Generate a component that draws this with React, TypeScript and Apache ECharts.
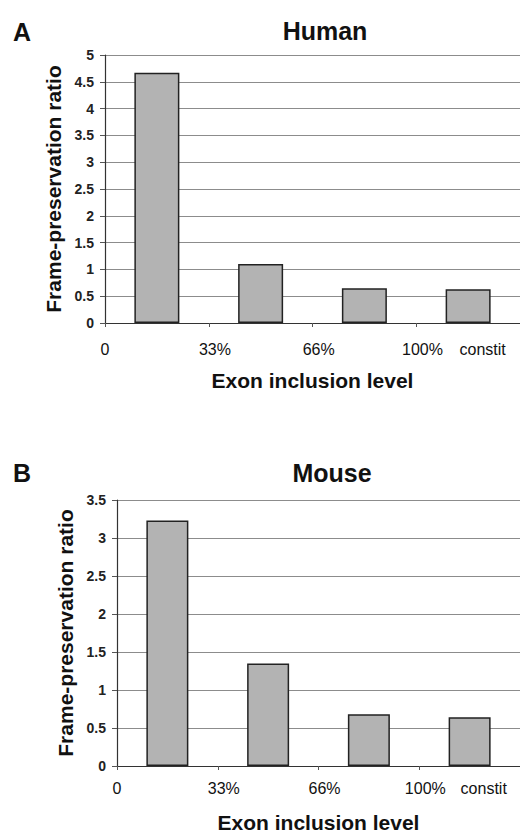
import React, { useEffect, useRef } from "react";
import * as echarts from "echarts";

const categories = ["0-33%", "33-66%", "66-100%", "constit"];
const humanValues = [4.67, 1.1, 0.65, 0.63];
const mouseValues = [3.23, 1.35, 0.68, 0.64];
const xTickLabels = ["0", "33%", "66%", "100%", "constit"];
const humanYTicks = { min: 0, max: 5, interval: 0.5 };
const mouseYTicks = { min: 0, max: 3.5, interval: 0.5 };

const FONT = "'Liberation Sans', Arial, sans-serif";
const TEXT = "#111";

function labelAxis(gridIndex: number, margin: number, nameGap: number) {
  return {
    type: "value",
    gridIndex,
    position: "bottom",
    min: 0,
    max: 4,
    axisLine: { show: false },
    axisTick: { show: false },
    splitLine: { show: false },
    axisLabel: {
      customValues: [0, 1.06, 2.06, 3.06, 3.64],
      formatter: (v: number) => {
        const i = v < 0.5 ? 0 : v < 1.5 ? 1 : v < 2.5 ? 2 : v < 3.5 ? 3 : 4;
        return xTickLabels[i];
      },
      margin,
      fontSize: 16,
      color: TEXT,
      fontFamily: FONT,
    },
    name: "Exon inclusion level",
    nameLocation: "middle",
    nameGap,
    nameTextStyle: { fontSize: 21, fontWeight: "bold", color: TEXT, fontFamily: FONT },
  };
}

function catAxis(gridIndex: number) {
  return {
    type: "category",
    gridIndex,
    data: categories,
    boundaryGap: true,
    axisLine: { show: true, lineStyle: { color: "#333", width: 1.2 } },
    axisTick: { show: true, length: 4, lineStyle: { color: "#555" } },
    axisLabel: { show: false },
    splitLine: { show: false },
  };
}

function valAxis(gridIndex: number, t: { min: number; max: number; interval: number }, nameGap: number) {
  return {
    type: "value",
    gridIndex,
    min: t.min,
    max: t.max,
    interval: t.interval,
    axisLine: { show: true, lineStyle: { color: "#333", width: 1.2 } },
    axisTick: { show: true, length: 5, lineStyle: { color: "#555" } },
    splitLine: { show: true, lineStyle: { color: "#8c8c8c", width: 1 } },
    axisLabel: { margin: 11, fontSize: 14, fontWeight: "bold", color: "#222", fontFamily: FONT },
    name: "Frame-preservation ratio",
    nameLocation: "middle",
    nameGap,
    nameTextStyle: { fontSize: 21, fontWeight: "bold", color: TEXT, fontFamily: FONT },
  };
}

const barStyle = { color: "#b3b3b3", borderColor: "#222", borderWidth: 1.5 };

export default function App() {
  const ref = useRef<HTMLDivElement>(null);
  useEffect(() => {
    if (!ref.current) return;
    const chart = echarts.init(ref.current, undefined, { renderer: "svg" });
    chart.setOption({
      animation: false,
      backgroundColor: "#fff",
      grid: [
        { left: 105, top: 55, width: 420, height: 268 },
        { left: 117, top: 500, width: 410, height: 268 },
      ],
      xAxis: [catAxis(0), labelAxis(0, 18, 47), catAxis(1), labelAxis(1, 14, 46)],
      yAxis: [valAxis(0, humanYTicks, 38), valAxis(1, mouseYTicks, 41)],
      series: [
        { type: "bar", name: "Human", xAxisIndex: 0, yAxisIndex: 0, data: humanValues, barWidth: 45, itemStyle: barStyle },
        { type: "bar", name: "Mouse", xAxisIndex: 2, yAxisIndex: 1, data: mouseValues, barWidth: 42, itemStyle: barStyle },
      ],
      graphic: [
        { type: "text", x: 22, y: 32, style: { text: "A", font: `bold 25px ${FONT}`, fill: TEXT, align: "center", verticalAlign: "middle" } },
        { type: "text", x: 325, y: 31, style: { text: "Human", font: `bold 25px ${FONT}`, fill: TEXT, align: "center", verticalAlign: "middle" } },
        { type: "text", x: 22, y: 473, style: { text: "B", font: `bold 25px ${FONT}`, fill: TEXT, align: "center", verticalAlign: "middle" } },
        { type: "text", x: 332, y: 473, style: { text: "Mouse", font: `bold 25px ${FONT}`, fill: TEXT, align: "center", verticalAlign: "middle" } },
      ],
    });
    return () => chart.dispose();
  }, []);
  return (
    <div style={{ position: "absolute", left: 0, top: 0, width: 520, height: 834, overflow: "hidden" }}>
      <div ref={ref} style={{ width: 520, height: 834 }} />
    </div>
  );
}
